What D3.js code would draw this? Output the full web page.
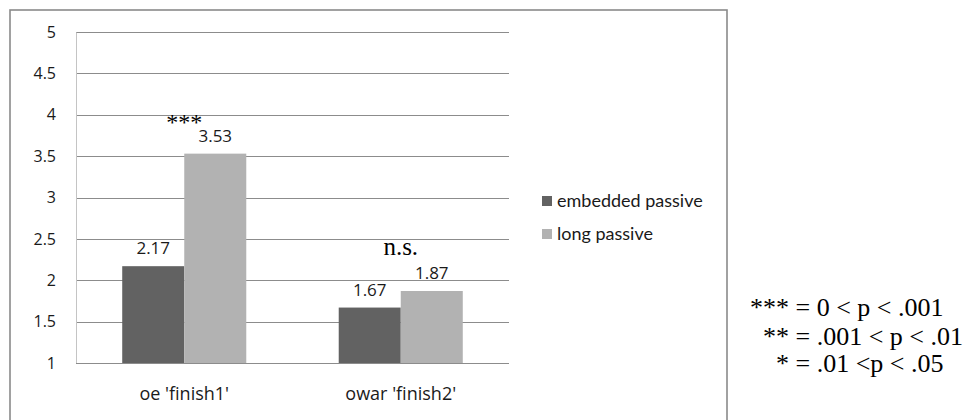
<!DOCTYPE html>
<html>
<head>
<meta charset="utf-8">
<script src="https://cdn.jsdelivr.net/npm/d3@7"></script>
<style>
  html, body { margin: 0; padding: 0; background: #fff; }
  svg { display: block; }
</style>
</head>
<body>
<svg id="chart" width="967" height="420"></svg>
<script>
// Mean ratings per verb, split by passive type
const categories = ["oe 'finish1'", "owar 'finish2'"];
const seriesNames = ["embedded passive", "long passive"];
const embeddedPassive = [2.17, 1.67];
const longPassive = [3.53, 1.87];
const seriesColors = ["#626262", "#b2b2b2"];
const yTicks = [1, 1.5, 2, 2.5, 3, 3.5, 4, 4.5, 5];
const yTickLabels = ["1", "1.5", "2", "2.5", "3", "3.5", "4", "4.5", "5"];
const significance = ["***", "n.s."];
const pLegend = ["*** = 0 < p < .001", "** = .001 < p < .01", "* = .01 <p < .05"];

const svg = d3.select("#chart");

// outer chart frame
svg.append("rect")
  .attr("x", 10).attr("y", 10)
  .attr("width", 717).attr("height", 430)
  .attr("fill", "none").attr("stroke", "#8a8a8a").attr("stroke-width", 1.6);

const plot = { left: 76, right: 509, top: 32, bottom: 363 };

const x0 = d3.scaleBand()
  .domain(categories)
  .range([plot.left, plot.right])
  .paddingInner(0.427)
  .paddingOuter(0.2135);

const x1 = d3.scaleBand()
  .domain(seriesNames)
  .range([0, x0.bandwidth()]);

const y = d3.scaleLinear().domain([1, 5]).range([plot.bottom, plot.top]);

// horizontal gridlines
svg.append("g")
  .selectAll("line")
  .data(yTicks.slice(1))
  .join("line")
  .attr("x1", plot.left).attr("x2", plot.right)
  .attr("y1", d => Math.round(y(d)) + 0.5).attr("y2", d => Math.round(y(d)) + 0.5)
  .attr("stroke", "#8c8c8c").attr("stroke-width", 1);

// y axis
const yAxis = svg.append("g")
  .attr("transform", `translate(${plot.left},0)`)
  .call(d3.axisLeft(y).tickValues(yTicks)
    .tickFormat((d, i) => yTickLabels[i]).tickSize(0).tickPadding(20));
yAxis.select(".domain").attr("stroke", "#c4c4c4");
yAxis.selectAll("text")
  .attr("font-family", "'Open Sans', sans-serif")
  .attr("font-size", 16).attr("fill", "#1a1a1a");

// bars
const rows = categories.map((c, i) => ({
  category: c,
  values: [embeddedPassive[i], longPassive[i]]
}));

const groups = svg.append("g").selectAll("g")
  .data(rows)
  .join("g")
  .attr("transform", d => `translate(${x0(d.category)},0)`);

groups.selectAll("rect")
  .data(d => d.values.map((v, j) => ({ series: seriesNames[j], value: v, j })))
  .join("rect")
  .attr("x", d => x1(d.series))
  .attr("y", d => y(d.value))
  .attr("width", x1.bandwidth())
  .attr("height", d => y(1) - y(d.value))
  .attr("fill", d => seriesColors[d.j]);

// value labels
groups.selectAll("text.value")
  .data(d => d.values.map((v, j) => ({ series: seriesNames[j], value: v })))
  .join("text")
  .attr("class", "value")
  .attr("x", d => x1(d.series) + x1.bandwidth() / 2)
  .attr("y", d => y(d.value) - 12)
  .attr("text-anchor", "middle")
  .attr("font-family", "'Open Sans', sans-serif")
  .attr("font-size", 17).attr("fill", "#1a1a1a")
  .text(d => d.value.toFixed(2));

// x axis baseline
svg.append("line")
  .attr("x1", plot.left).attr("x2", plot.right)
  .attr("y1", plot.bottom + 0.5).attr("y2", plot.bottom + 0.5)
  .attr("stroke", "#8c8c8c");

// category labels
svg.append("g").selectAll("text")
  .data(categories)
  .join("text")
  .attr("x", d => x0(d) + x0.bandwidth() / 2)
  .attr("y", 400)
  .attr("text-anchor", "middle")
  .attr("font-family", "'Open Sans', sans-serif")
  .attr("font-size", 18).attr("fill", "#1a1a1a")
  .text(d => d);

// significance marks above each pair
const sigOffset = [24, 36];
svg.append("g").selectAll("text")
  .data(significance)
  .join("text")
  .attr("x", (d, i) => x0(categories[i]) + x0.bandwidth() / 2)
  .attr("y", (d, i) => y(Math.max(embeddedPassive[i], longPassive[i])) - sigOffset[i])
  .attr("text-anchor", "middle")
  .attr("font-family", "'Liberation Serif', 'Times New Roman', serif")
  .attr("font-size", (d, i) => i === 0 ? 24 : 25)
  .attr("fill", "#000")
  .text(d => d);

// series legend
const legend = svg.append("g").selectAll("g")
  .data(seriesNames)
  .join("g")
  .attr("transform", (d, i) => `translate(542,${201 + i * 33})`);
legend.append("rect")
  .attr("x", 0).attr("y", -5).attr("width", 10).attr("height", 10)
  .attr("fill", (d, i) => seriesColors[i]);
legend.append("text")
  .attr("x", 15).attr("y", 0).attr("dy", "0.35em")
  .attr("font-family", "Lato, sans-serif")
  .attr("font-size", 18).attr("fill", "#1a1a1a")
  .text(d => d);

// p-value key
const pX = [750, 763, 776];
const pY = [316, 345, 372];
svg.append("g").selectAll("text")
  .data(pLegend)
  .join("text")
  .attr("x", (d, i) => pX[i])
  .attr("y", (d, i) => pY[i])
  .attr("font-family", "'Liberation Serif', 'Times New Roman', serif")
  .attr("font-size", 26).attr("fill", "#000")
  .text(d => d);
</script>
</body>
</html>
